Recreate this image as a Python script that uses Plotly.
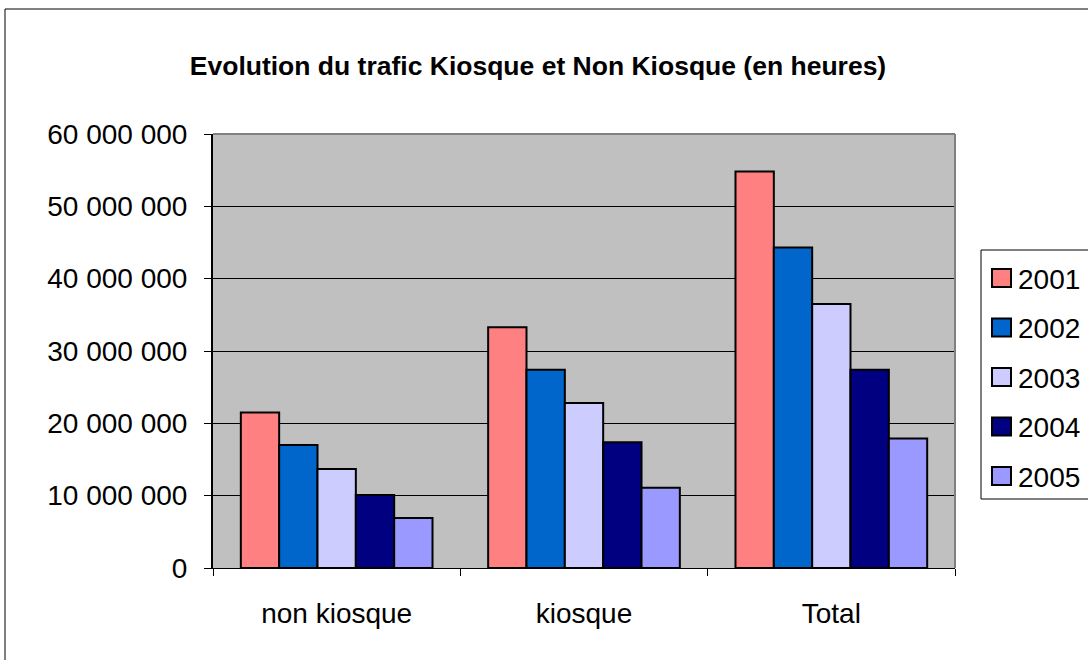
import plotly.graph_objects as go

categories = ["non kiosque", "kiosque", "Total"]
years = ["2001", "2002", "2003", "2004", "2005"]
v2001 = [21500000, 33300000, 54800000]
v2002 = [17000000, 27400000, 44300000]
v2003 = [13700000, 22800000, 36500000]
v2004 = [10100000, 17400000, 27400000]
v2005 = [6900000, 11100000, 17900000]
series = [v2001, v2002, v2003, v2004, v2005]
colors = ["#FF8080", "#0066CC", "#CCCCFF", "#000080", "#9999FF"]

FONT = "Liberation Sans, Arial, sans-serif"

W, H = 1088, 660
L, R, T, B = 213, 133, 134, 92
PW, PH = W - L - R, H - T - B


def px_x(x):
    return (x - L) / PW


def px_y(y):
    return (H - B - y) / PH


fig = go.Figure()
for yr, vals, col in zip(years, series, colors):
    fig.add_trace(go.Bar(
        x=categories, y=vals, name=yr, showlegend=False,
        marker=dict(color=col, line=dict(color="#000000", width=2)),
    ))

shapes = [
    # outer chart frame
    dict(type="rect", xref="paper", yref="paper",
         x0=px_x(5), x1=px_x(W + 20), y0=px_y(H + 20), y1=px_y(9),
         line=dict(color="#000000", width=1), fillcolor="rgba(0,0,0,0)",
         layer="below"),
    # gray plot-area border top and right
    dict(type="line", xref="paper", yref="paper", x0=0, x1=1, y0=1, y1=1,
         line=dict(color="#808080", width=2)),
    dict(type="line", xref="paper", yref="paper", x0=1, x1=1, y0=0, y1=1,
         line=dict(color="#808080", width=2)),
    # legend box
    dict(type="rect", xref="paper", yref="paper",
         x0=px_x(981), x1=px_x(W + 20), y0=px_y(499), y1=px_y(250),
         line=dict(color="#000000", width=1), fillcolor="#FFFFFF"),
]
annotations = []
legend_top, legend_step = 278, 49.5
for i, (yr, col) in enumerate(zip(years, colors)):
    cy = legend_top + i * legend_step
    shapes.append(dict(type="rect", xref="paper", yref="paper",
                       x0=px_x(992), x1=px_x(1011), y0=px_y(cy + 9), y1=px_y(cy - 9),
                       line=dict(color="#000000", width=2), fillcolor=col))
    annotations.append(dict(text=yr, xref="paper", yref="paper",
                            x=px_x(1016), y=px_y(cy + 1), xanchor="left", yanchor="middle",
                            showarrow=False,
                            font=dict(family=FONT, size=28, color="#000000")))

fig.update_layout(
    width=W, height=H,
    margin=dict(l=L, r=R, t=T, b=B),
    paper_bgcolor="#FFFFFF",
    plot_bgcolor="#C0C0C0",
    barmode="group",
    bargap=0.225,
    bargroupgap=0,
    separators=", ",
    font=dict(family=FONT, color="#000000", size=26),
    title=dict(
        text="<b>Evolution du trafic Kiosque et Non Kiosque (en heures)</b>",
        x=538 / W, xref="container", xanchor="center",
        y=1 - 66 / H, yref="container", yanchor="middle",
        font=dict(family=FONT, size=26.5, color="#000000"),
    ),
    showlegend=False,
    xaxis=dict(
        type="category", range=[-0.5, 2.5],
        showline=True, linecolor="#000000", linewidth=1,
        ticks="outside", tickson="boundaries", ticklen=7, tickcolor="#000000",
        tickfont=dict(family=FONT, size=28),
        ticklabelstandoff=20,
        showgrid=False, zeroline=False,
    ),
    yaxis=dict(
        range=[0, 60000000], dtick=10000000, tick0=0,
        tickformat=",d",
        showline=True, linecolor="#000000", linewidth=2,
        ticks="outside", ticklen=7, tickcolor="#000000",
        tickfont=dict(family=FONT, size=28),
        ticklabelstandoff=11,
        showgrid=True, gridcolor="#000000", gridwidth=1,
        zeroline=False,
    ),
    shapes=shapes,
    annotations=annotations,
)

fig.write_html(
    "out.html",
    config={"displayModeBar": False},
    post_script="document.body.style.margin='0';document.body.style.overflow='hidden';",
)
